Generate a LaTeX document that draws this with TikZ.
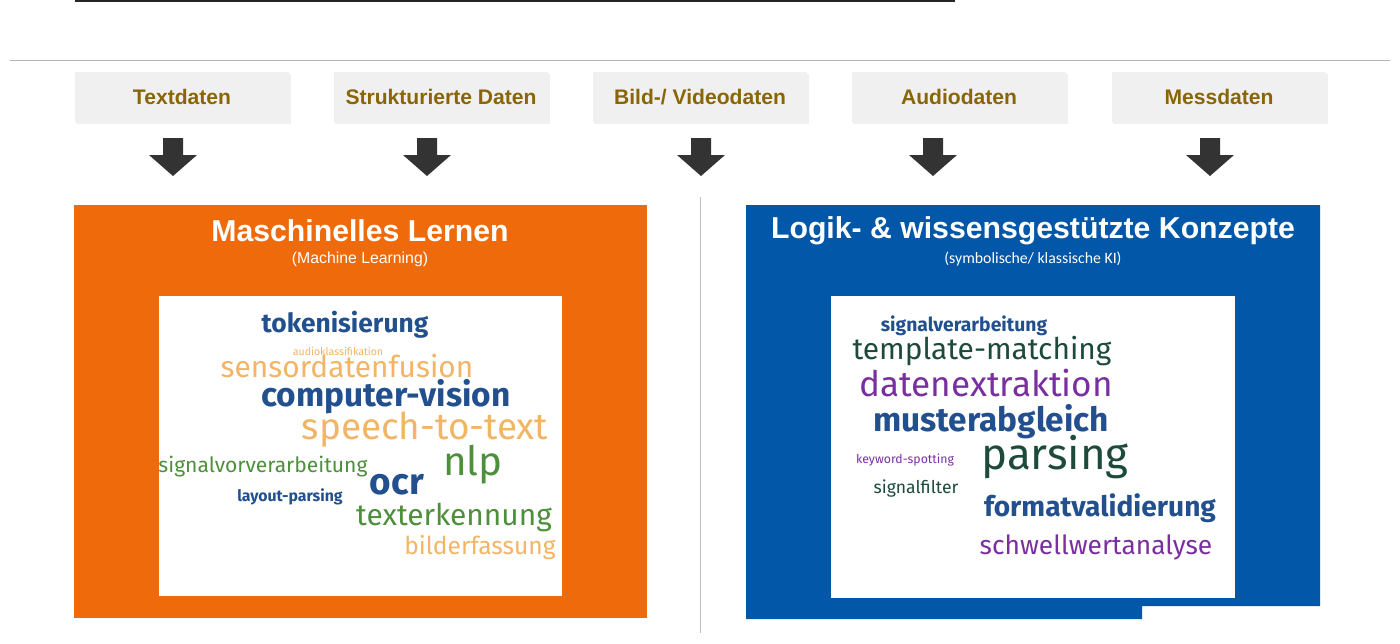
\documentclass[tikz,border=0pt]{standalone}
\usepackage{fontspec}
\setmainfont{Liberation Sans}
\newfontfamily\cloudfont{Fira Sans}
\newfontfamily\subfont{Carlito}
\usetikzlibrary{shadows}
\definecolor{mlorange}{HTML}{EE6A0A}
\definecolor{kiblue}{HTML}{0257A8}
\definecolor{gold}{HTML}{8A6508}
\definecolor{wblue}{HTML}{22508E}
\definecolor{worange}{HTML}{F2B565}
\definecolor{wgreen}{HTML}{4E8F3C}
\definecolor{wdark}{HTML}{1E4A3A}
\definecolor{wpurple}{HTML}{7A2FA0}
\begin{document}
\begin{tikzpicture}
[x=0.02cm,y=-0.02cm,
  sourcebox/.style={fill=gray!12,minimum width=4.3cm,minimum height=1cm,
    font=\bfseries\large,text=gold,
    drop shadow={opacity=0.12,shadow xshift=1pt,shadow yshift=-1pt}},
  blockarrow/.style={fill=black!80},
  heading/.style={text=white,font=\bfseries\fontsize{17.2}{20}\selectfont},
  word/.style={inner sep=0pt,text height=0.72em,text depth=0.12em,yshift=-0.08cm}]
\useasboundingbox (0,0) rectangle (1400,643);
%% rules
\draw[black!85,line width=2pt] (75,0) -- (955,0);
\draw[gray!60] (10,60) -- (1390,60);
\draw[gray!50] (700,197) -- (700,633);
%% data sources
\foreach \nodename/\x/\label/\ax in {text/182/Textdaten/173,
  struct/441/Strukturierte Daten/427, bild/700/{Bild-/ Videodaten}/701,
  audio/959/Audiodaten/933, mess/1219/Messdaten/1210}
{
  \node (\nodename) at (\x,97) [sourcebox] {\label};
  \fill[blockarrow] (\ax-10,138) -- (\ax+10,138) -- (\ax+10,155) -- (\ax+24,155)
    -- (\ax,176) -- (\ax-24,155) -- (\ax-10,155) -- cycle;
}
%% machine learning
\fill[mlorange] (74,205) rectangle (647,618);
\node (ml) at (360,231) [heading] {Maschinelles Lernen};
\node (mlsub) at (360,259) [text=white,font=\small] {(Machine Learning)};
\fill[white] (159,296) rectangle (562,596);
\foreach \name/\x/\y/\size/\col/\wt/\txt in {
  tok/345/323/15/wblue/\bfseries/tokenisierung,
  audk/338/346/6/worange//audioklassifikation,
  sens/347/368/17/worange//sensordatenfusion,
  cv/386/397/19/wblue/\bfseries/computer-vision,
  stt/425/430/21/worange//speech-to-text,
  sig/263/463/12/wgreen//signalvorverarbeitung,
  nlp/473/466/23/wgreen//nlp,
  lay/290/492/9/wblue/\bfseries/layout-parsing,
  ocr/397/485/21/wblue/\bfseries/ocr,
  tex/454/516/17/wgreen//texterkennung,
  bild/480/545/14/worange//bilderfassung}
{
  \node (\name) at (\x,\y) [word,text=\col,font=\cloudfont\wt\fontsize{\size}{\size}\selectfont] {\txt};
}
%% symbolic AI
\fill[kiblue] (746,205) rectangle (1320,606) (746,600) rectangle (1142,619);
\node (ki) at (1033,231) [heading] {Logik- \& wissensgestützte Konzepte};
\node (kisub) at (1033,259) [text=white,font=\subfont\small] {(symbolische/ klassische KI)};
\fill[white] (831,296) rectangle (1235,598);
\foreach \name/\x/\y/\size/\col/\wt/\txt in {
  sv/964/322/11/wblue/\bfseries/signalverarbeitung,
  tm/982/350/17/wdark//template-matching,
  de/986/387/20/wpurple//datenextraktion,
  ma/991/422/19/wblue/\bfseries/musterabgleich,
  kw/905/454/7/wpurple//keyword-spotting,
  par/1055/460/25/wdark//parsing,
  sf/916/484/10/wdark//signalfilter,
  fv/1100/507/16/wblue/\bfseries/formatvalidierung,
  swa/1096/545/15/wpurple//schwellwertanalyse}
{
  \node (\name) at (\x,\y) [word,text=\col,font=\cloudfont\wt\fontsize{\size}{\size}\selectfont] {\txt};
}
\end{tikzpicture}
\end{document}
